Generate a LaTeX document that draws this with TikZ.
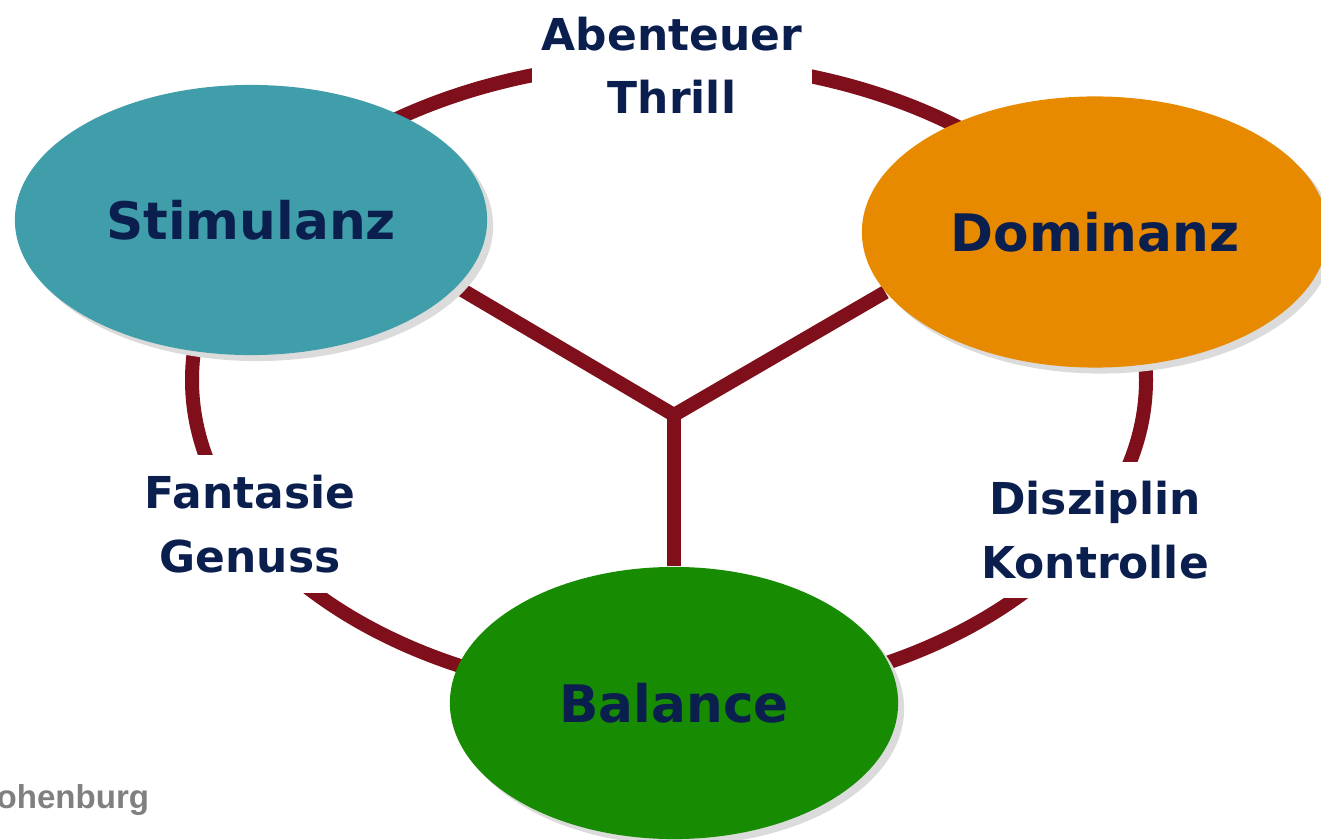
\documentclass[tikz,border=0pt]{standalone}
\usepackage{fontspec}
\setmainfont{DejaVu Sans}
\newfontfamily\creditfont{Liberation Sans}
\usetikzlibrary{shapes.geometric,shadows,backgrounds}
\definecolor{ringred}{HTML}{7F0F1A}
\definecolor{labelnavy}{HTML}{0B1F4F}
\definecolor{stimteal}{HTML}{409EAB}
\definecolor{domorange}{HTML}{E88A00}
\definecolor{balgreen}{HTML}{178C03}
\definecolor{creditgray}{HTML}{808080}

\tikzset{
  motive/.style={ellipse, draw=none, text=labelnavy, inner sep=2pt,
    font=\fontsize{14.7}{17}\selectfont\bfseries,
    drop shadow={fill=black!14, opacity=1, shadow xshift=0.06cm, shadow yshift=-0.06cm}},
  trait/.style={rectangle, fill=white, text=labelnavy, align=center, inner sep=0pt,
    font=\fontsize{12.5}{18}\selectfont\bfseries},
  link/.style={ringred, line width=0.14cm}
}

\begin{document}
\begin{tikzpicture}[x=0.01cm, y=-0.01cm]
  \useasboundingbox (0,0) rectangle (1321,840);

  % ==================== RING ====================
  \draw[link] (669,380) ellipse (477 and 318);

  % Gaps in the ring hold the trait labels
  \node[trait, minimum width=2.8cm, minimum height=1.3cm] (thrill) at (672,65) {Abenteuer\\Thrill};
  \node[trait, minimum width=2.2cm, minimum height=1.38cm] (genuss) at (250,524) {Fantasie\\Genuss};
  \node[trait, minimum width=2.4cm, minimum height=1.36cm] (kontrolle) at (1095,530) {Disziplin\\Kontrolle};

  % ==================== MOTIVES ====================
  \node[motive, fill=stimteal, minimum width=4.72cm, minimum height=2.70cm] (stim) at (251,220) {Stimulanz};
  \node[motive, fill=domorange, minimum width=4.66cm, minimum height=2.71cm] (dom) at (1095,232) {Dominanz};
  \node[motive, fill=balgreen, minimum width=4.48cm, minimum height=2.72cm] (bal) at (674,703) {Balance};

  % Y between the three motives
  \coordinate (hub) at (674,415);
  \begin{scope}[on background layer]
    \draw[link, line join=miter] (stim.-18) -- (hub) -- (dom.196);
    \draw[link] (hub) -- (bal.north);
  \end{scope}

  % Credit, cut off at the left edge
  \node[anchor=base west, inner sep=0pt, text=creditgray,
    font=\creditfont\fontsize{9.4}{11}\selectfont\bfseries] (credit) at (-4,808) {ohenburg};

\end{tikzpicture}
\end{document}
